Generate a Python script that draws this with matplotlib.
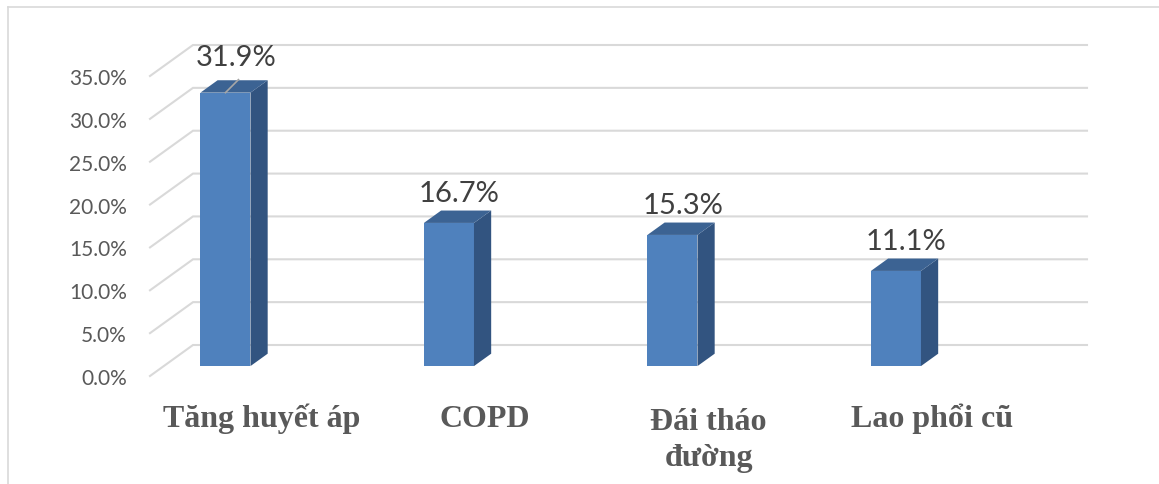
import matplotlib
matplotlib.use("Agg")
import matplotlib.pyplot as plt
from matplotlib.patches import Polygon
from matplotlib.lines import Line2D
from matplotlib.transforms import IdentityTransform, ScaledTranslation
import numpy as np

# ---- data ----
categories = ["Tăng huyết áp", "COPD", "Đái tháo\nđường", "Lao phổi cũ"]
values = [31.9, 16.7, 15.3, 11.1]
value_labels = ["31.9%", "16.7%", "15.3%", "11.1%"]
y_ticks = [0, 5, 10, 15, 20, 25, 30, 35]
y_tick_labels = ["0.0%", "5.0%", "10.0%", "15.0%", "20.0%", "25.0%", "30.0%", "35.0%"]

# ---- figure / axes (front plane of the 3-D box) ----
W, H, DPI = 1159, 485, 100
fig = plt.figure(figsize=(W / DPI, H / DPI), dpi=DPI)
fig.patch.set_facecolor("white")
ax = fig.add_axes([150 / W, 108 / H, 894 / W, 300 / H])
ax.set_xlim(-0.5, 3.5)
ax.set_ylim(0, 35)
ax.patch.set_visible(False)
for s in ax.spines.values():
    s.set_visible(False)

GRID = "#d9d9d9"
FRONT = "#4f81bd"
SIDE = "#325480"
TOP = "#3c6393"
TXT = "#595959"

depth = np.array([43.0, 31.0])     # floor depth in pixels (right, up)
f_front, f_back = 0.32, 0.72       # bar position inside the depth
bar_w = 0.224
bar_shift = -0.224
ident = IdentityTransform()


def disp(x, y, frac=0.0):
    return ax.transData.transform((x, y)) + depth * frac


# gridlines: oblique side-wall segments + back-wall lines
for v in y_ticks:
    p0 = disp(-0.5, v)
    p1 = disp(-0.5, v, 1.0)
    p2 = disp(3.5, v, 1.0)
    ax.add_line(Line2D([p0[0], p1[0], p2[0]], [p0[1], p1[1], p2[1]],
                       color=GRID, lw=1.5, transform=ident, clip_on=False,
                       zorder=1, solid_joinstyle="miter"))

# bar front faces (shifted into the depth)
xs = np.arange(len(categories)) + bar_shift
off = ScaledTranslation(depth[0] * f_front / DPI, depth[1] * f_front / DPI,
                        fig.dpi_scale_trans)
ax.bar(xs, values, width=bar_w, color=FRONT, transform=ax.transData + off,
       clip_on=False, zorder=3, linewidth=0)

# side and top faces
for x, v in zip(xs, values):
    xl, xr = x - bar_w / 2, x + bar_w / 2
    side = [disp(xr, 0, f_front), disp(xr, v, f_front),
            disp(xr, v, f_back), disp(xr, 0, f_back)]
    top = [disp(xl, v, f_front), disp(xr, v, f_front),
           disp(xr, v, f_back), disp(xl, v, f_back)]
    ax.add_patch(Polygon(side, closed=True, facecolor=SIDE, edgecolor="none",
                         transform=ident, clip_on=False, zorder=3))
    ax.add_patch(Polygon(top, closed=True, facecolor=TOP, edgecolor="none",
                         transform=ident, clip_on=False, zorder=3))

# data labels
vmax = max(values)
for x, v, lab in zip(xs, values, value_labels):
    lift = 46 if v == vmax else 40
    ax.annotate(lab, xy=(x, v), xytext=(24, lift), textcoords="offset pixels",
                ha="center", va="center", fontsize=21, family="Lato",
                color="#404040", zorder=5, annotation_clip=False)
    if v == vmax:
        a = disp(x, v, f_front)
        ax.add_line(Line2D([a[0], a[0] + 13], [a[1], a[1] + 13], color="#a6a6a6",
                           lw=1.2, transform=ident, clip_on=False, zorder=4))

# value axis
ax.set_yticks(y_ticks, y_tick_labels)
ax.tick_params(axis="y", length=0, pad=23 * 72 / DPI, labelsize=15,
               labelcolor=TXT)
for t in ax.get_yticklabels():
    t.set_family("Lato")

# category labels: first line baseline 50 px below the floor front edge
ax.set_xticks([])
line_gap = 39  # px between baselines
for i, cat in enumerate(categories):
    n_lines = cat.count("\n") + 1
    drop = 50 + line_gap * (n_lines - 1)
    ax.text(i, 0, cat, ha="center", va="baseline", multialignment="center",
            fontsize=23, family="Liberation Serif", fontweight="bold",
            color=TXT, linespacing=1.34, clip_on=False,
            transform=ax.transData + ScaledTranslation(0, -drop / DPI,
                                                       fig.dpi_scale_trans))

# chart frame (top and left edges)
fig.add_artist(Line2D([8, W], [H - 8, H - 8], color=GRID, lw=1.2,
                      transform=IdentityTransform()))
fig.add_artist(Line2D([8, 8], [0, H - 8], color=GRID, lw=1.2,
                      transform=IdentityTransform()))

fig.savefig("out.png", dpi=DPI, facecolor="white")
